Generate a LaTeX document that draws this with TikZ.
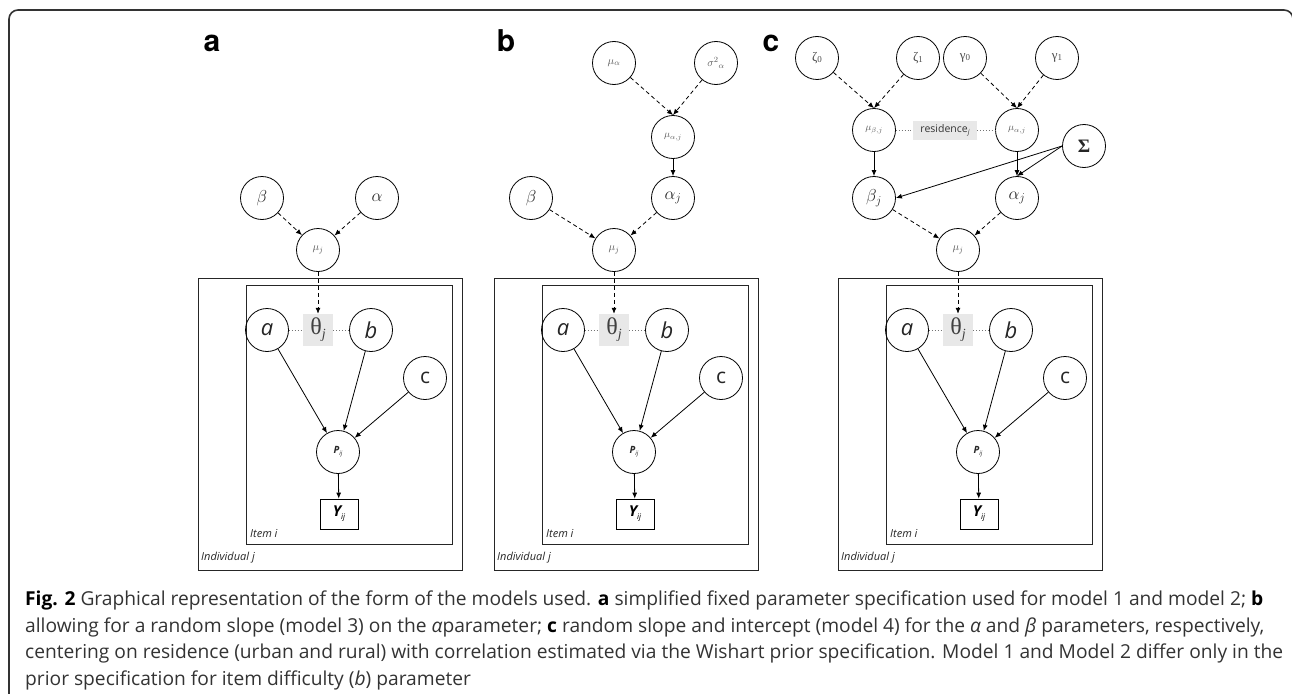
\documentclass[tikz,border=0pt]{standalone}
\usepackage{fontspec}
\usetikzlibrary{arrows.meta}
\newfontfamily\osans{Open Sans}
\newfontfamily\heros{TeX Gyre Heros}
\newfontfamily\lserif{Liberation Serif}
\tikzset{
  var/.style={circle, draw=black, line width=0.8pt, minimum size=43pt, inner sep=0pt, text=black!85},
  obs/.style={rectangle, draw=black, line width=0.8pt, minimum width=38pt, minimum height=30pt, inner sep=0pt},
  plate/.style={draw=black!85, line width=1pt},
  shadebox/.style={rectangle, fill=black!9, inner sep=0pt},
  darr/.style={draw=black, line width=0.8pt, dash pattern=on 4pt off 3pt, -{Latex[length=6pt,width=5pt]}},
  sarr/.style={draw=black, line width=0.8pt, -{Latex[length=6pt,width=5pt]}},
  dotl/.style={draw=black!55, line width=0.9pt, dotted},
  plabel/.style={font=\heros\bfseries\fontsize{30}{30}\selectfont, inner sep=0pt, anchor=base},
  platelbl/.style={font=\osans\itshape\fontsize{11}{11}\selectfont, inner sep=0pt, anchor=west, text=black!85},
  big/.style={font=\fontsize{17}{17}\selectfont},
  small/.style={font=\fontsize{11}{11}\selectfont, text=black!65},
  capline/.style={font=\osans\fontsize{19.2}{19.2}\selectfont, text=black!80, inner sep=0pt, anchor=base west},
}
\newcommand\platepart{%
  \draw[plate] (198,278) rectangle (462,570);
  \draw[plate] (246,285) rectangle (452,544);
  \node[platelbl] (item) at (250,534) {Item i};
  \node[platelbl] (ind) at (201,558) {Individual j};
  \node[var, small] (mu) at (318,250) {$\mu_j$};
  \node[var, font=\osans\itshape\fontsize{22}{22}\selectfont] (a) at (267,330) {a};
  \node[shadebox, minimum width=30pt, minimum height=32pt, font=\lserif\fontsize{24}{24}\selectfont, text=black!75] (th) at (318,330) {θ\raisebox{-4pt}{\fontsize{14}{14}\selectfont\itshape j}};
  \node[var, font=\osans\itshape\fontsize{22}{22}\selectfont] (b) at (371,330) {b};
  \node[var, font=\osans\fontsize{21}{21}\selectfont] (c) at (425,378) {c};
  \node[var, font=\osans\bfseries\itshape\fontsize{10}{10}\selectfont] (P) at (338,452) {P\raisebox{-2pt}{\fontsize{6}{6}\selectfont\mdseries ij}};
  \node[obs, font=\osans\bfseries\itshape\fontsize{15}{15}\selectfont] (Y) at (339,514) {Y\raisebox{-3pt}{\fontsize{8}{8}\selectfont\mdseries ij}};
  \draw[darr] (mu) -- (th);
  \draw[dotl] (a) -- (th);
  \draw[dotl] (th) -- (b);
  \draw[sarr] (a) -- (P);
  \draw[sarr] (b) -- (P);
  \draw[sarr] (c) -- (P);
  \draw[sarr] (P) -- (Y);
}
\begin{document}
\begin{tikzpicture}[x=1pt, y=-1pt]
\useasboundingbox (0,0) rectangle (1292,693);
\draw[line width=1.6pt, black!80, rounded corners=9pt] (9,10) rectangle (1293,720);

% panel labels
\node[plabel] (la) at (212,52) {a};
\node[plabel] (lb) at (506,52) {b};
\node[plabel] (lc) at (771,52) {c};

% ---- panel a ----
\begin{scope}[name prefix=pa-]
  \platepart
  \node[var, big] (beta) at (262,198) {$\beta$};
  \node[var, big] (alpha) at (377,198) {$\alpha$};
  \draw[darr] (beta) -- (mu);
  \draw[darr] (alpha) -- (mu);
\end{scope}

% ---- panel b ----
\begin{scope}[shift={(296,0)}, name prefix=pb-]
  \platepart
\end{scope}
\node[var, small] (pb-mua) at (614,63) {$\mu_\alpha$};
\node[var, small, font=\fontsize{11}{11}\selectfont] (pb-sig) at (716,63) {$\sigma^2{}_\alpha$};
\node[var, small, font=\fontsize{10}{10}\selectfont] (pb-muaj) at (673,137) {$\mu_{\alpha,j}$};
\node[var, big] (pb-alpha) at (673,198) {$\alpha_j$};
\node[var, big] (pb-beta) at (531,198) {$\beta$};
\draw[darr] (pb-mua) -- (pb-muaj.north);
\draw[darr] (pb-sig) -- (pb-muaj.north);
\draw[sarr] (pb-muaj) -- (pb-alpha);
\draw[darr] (pb-beta) -- (pb-mu);
\draw[darr] (pb-alpha) -- (pb-mu);

% ---- panel c ----
\begin{scope}[shift={(640,0)}, name prefix=pc-]
  \platepart
\end{scope}
\node[var, font=\lserif\fontsize{13}{13}\selectfont, text=black!70] (pc-z0) at (817,58) {ζ\raisebox{-1pt}{\fontsize{9}{9}\selectfont 0}};
\node[var, font=\lserif\fontsize{13}{13}\selectfont, text=black!70] (pc-z1) at (918,58) {ζ\raisebox{-1pt}{\fontsize{9}{9}\selectfont 1}};
\node[var, font=\lserif\fontsize{13}{13}\selectfont, text=black!70] (pc-g0) at (965,58) {γ\raisebox{-1pt}{\fontsize{9}{9}\selectfont 0}};
\node[var, font=\lserif\fontsize{13}{13}\selectfont, text=black!70] (pc-g1) at (1057,58) {γ\raisebox{-1pt}{\fontsize{9}{9}\selectfont 1}};
\node[var, small, font=\fontsize{10}{10}\selectfont] (pc-mubj) at (874,130) {$\mu_{\beta,j}$};
\node[var, small, font=\fontsize{10}{10}\selectfont] (pc-muaj) at (1017,130) {$\mu_{\alpha,j}$};
\node[shadebox, minimum width=64pt, minimum height=19pt, font=\osans\fontsize{10.5}{10.5}\selectfont, text=black!80] (pc-res) at (945,130) {residence\raisebox{-2pt}{\fontsize{7}{7}\selectfont\itshape j}};
\node[var, font=\lserif\bfseries\fontsize{19}{19}\selectfont] (pc-sig) at (1084,146) {Σ};
\node[var, big] (pc-beta) at (874,198) {$\beta_j$};
\node[var, big] (pc-alpha) at (1017,198) {$\alpha_j$};
\draw[darr] (pc-z0) -- (pc-mubj.north);
\draw[darr] (pc-z1) -- (pc-mubj.north);
\draw[darr] (pc-g0) -- (pc-muaj.north);
\draw[darr] (pc-g1) -- (pc-muaj.north);
\draw[dotl] (pc-mubj) -- (pc-res);
\draw[dotl] (pc-res) -- (pc-muaj);
\draw[sarr] (pc-mubj) -- (pc-beta);
\draw[sarr] (pc-muaj) -- (pc-alpha);
\draw[sarr] (pc-sig.west) -- (pc-beta.east);
\draw[sarr] (pc-sig.west) -- (pc-alpha.north);
\draw[darr] (pc-beta) -- (pc-mu);
\draw[darr] (pc-alpha) -- (pc-mu);

% ---- caption ----
\node[capline] (cap1) at (25,605) {{\bfseries\color{black}Fig. 2} Graphical representation of the form of the models used. {\bfseries\color{black}a} simplified fixed parameter specification used for model 1 and model 2; {\bfseries\color{black}b}};
\node[capline] (cap2) at (25,632) {allowing for a random slope (model 3) on the {\itshape α}parameter; {\bfseries\color{black}c} random slope and intercept (model 4) for the {\itshape α} and {\itshape β} parameters, respectively,};
\node[capline] (cap3) at (25,658) {centering on residence (urban and rural) with correlation estimated via the Wishart prior specification. Model 1 and Model 2 differ only in the};
\node[capline] (cap4) at (25,685) {prior specification for item difficulty ({\itshape b}) parameter};
\end{tikzpicture}
\end{document}
